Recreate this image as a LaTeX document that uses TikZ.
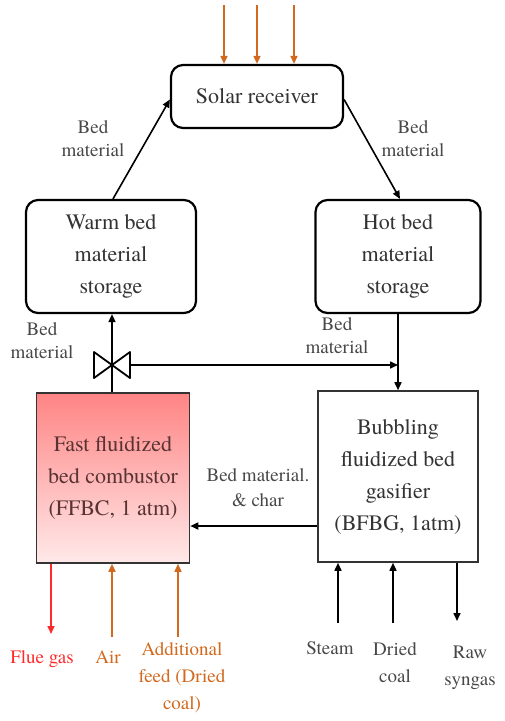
\documentclass[tikz,border=0pt]{standalone}
\usepackage{fontspec}
\setmainfont{texgyretermes}[Extension=.otf, UprightFont=*-regular, BoldFont=*-bold]
\usetikzlibrary{arrows.meta,calc,positioning}
\definecolor{plantink}{HTML}{333333}
\definecolor{plantmuted}{HTML}{484848}
\definecolor{plantorange}{HTML}{D2691E}
\definecolor{plantred}{HTML}{FF2A2A}
\definecolor{planttop}{HTML}{FF8484}
\definecolor{plantbottom}{HTML}{FFE9E9}
\tikzset{
  boxtext/.style={font=\rmfamily\fontsize{22}{32}\selectfont, text=plantink, align=center},
  flowlabel/.style={font=\rmfamily\fontsize{19}{23}\selectfont, text=plantmuted, align=center},
  streamlabel/.style={font=\rmfamily\fontsize{19}{27}\selectfont, text=plantmuted, align=center},
  storebox/.style={boxtext, draw=black, line width=2.2pt, rounded corners=12pt,
    fill=white, inner sep=0pt},
  reactorbox/.style={boxtext, draw=black!80, line width=1.6pt, inner sep=0pt},
  blackflow/.style={-{Triangle[length=8pt,width=7pt]}, draw=black, line width=1.6pt},
  orangeflow/.style={-{Triangle[length=8pt,width=7pt]}, draw=plantorange, line width=1.6pt},
  redflow/.style={-{Triangle[length=8pt,width=7pt]}, draw=plantred, line width=1.6pt}
}
\begin{document}
\begin{tikzpicture}[x=1pt,y=-1pt]
  \useasboundingbox (0,0) rectangle (504,721);
  % storage loop through the receiver
  \node[storebox, minimum width=172pt, minimum height=63pt] (solar) at (257,96.5) {Solar receiver};
  \node[storebox, minimum width=170pt, minimum height=113pt] (warm) at (111,256.5)
    {Warm bed\\material\\storage};
  \node[storebox, minimum width=165pt, minimum height=113pt] (hot) at (398,256.5)
    {Hot bed\\material\\storage};
  \foreach \x in {224,257,294} {
    \coordinate (sun\x) at (\x,5);
    \draw[orangeflow] (sun\x) -- (sun\x |- solar.north);
  }
  \draw[blackflow] ([xshift=2pt]warm.north) -- ([yshift=-3pt]solar.west);
  \draw[blackflow] ([yshift=-3pt]solar.east) -- ([xshift=2pt]hot.north);
  \node[flowlabel] (lblwarm) at (93,139) {Bed\\material};
  \node[flowlabel] (lblhot) at (413,139) {Bed\\material};

  % reactors
  \node[reactorbox, top color=planttop, bottom color=plantbottom, text=black!75!red!60!gray,
    minimum width=153pt, minimum height=170pt] (ffbc) at (113,478)
    {Fast fluidized\\bed combustor\\(FFBC, 1 atm)};
  \node[reactorbox, fill=white, minimum width=160pt, minimum height=171pt] (bfbg) at (398,476.5)
    {Bubbling\\fluidized bed\\gasifier\\(BFBG, 1atm)};

  % valve and return legs
  \coordinate (valve) at (112,365);
  \coordinate (valveright) at (130,365);
  \draw[black, line width=1.6pt] (ffbc.north -| valve) -- (valve);
  \draw[blackflow] (valve) -- (warm.south -| valve);
  \draw[black, line width=1.8pt, fill=white, line join=round]
    ($(valve)+(-18,-13)$) -- ($(valve)+(18,13)$) -- ($(valve)+(18,-13)$)
    -- ($(valve)+(-18,13)$) -- cycle;
  \draw[blackflow] (valveright) -- (hot.south |- valve);
  \draw[blackflow] (hot.south) -- (hot.south |- bfbg.north);
  \node[flowlabel] (lblvalve) at (42,341) {Bed\\material};
  \node[flowlabel] (lbldown) at (337,336) {Bed\\material};

  \coordinate (charlevel) at (250,526);
  \draw[blackflow] (bfbg.west |- charlevel) -- (ffbc.east |- charlevel);
  \node[flowlabel, font=\rmfamily\fontsize{19}{25}\selectfont] (lblchar) at (258,488) {Bed material.\\\& char};

  % feeds and products
  \coordinate (flueend) at (51,634);
  \coordinate (airstart) at (112,637);
  \coordinate (feedstart) at (178,637);
  \coordinate (steamstart) at (338,623);
  \coordinate (coalstart) at (393,623);
  \coordinate (syngasend) at (457,621);
  \draw[redflow] (ffbc.south -| flueend) -- (flueend);
  \draw[orangeflow] (airstart) -- (ffbc.south -| airstart);
  \draw[orangeflow] (feedstart) -- (ffbc.south -| feedstart);
  \draw[blackflow] (steamstart) -- (bfbg.south -| steamstart);
  \draw[blackflow] (coalstart) -- (bfbg.south -| coalstart);
  \draw[blackflow] (bfbg.south -| syngasend) -- (syngasend);

  \node[streamlabel, text=plantred, anchor=north] (lblflue) at (42,647) {Flue gas};
  \node[streamlabel, text=plantorange, anchor=north] (lblair) at (108,647) {Air};
  \node[streamlabel, text=plantorange, anchor=north] (lblfeed) at (182,639)
    {Additional\\feed (Dried\\coal)};
  \node[streamlabel, anchor=north] (lblsteam) at (330,638) {Steam};
  \node[streamlabel, anchor=north] (lblcoal) at (395,639) {Dried\\coal};
  \node[streamlabel, anchor=north] (lblsyngas) at (470,642) {Raw\\syngas};
\end{tikzpicture}
\end{document}
